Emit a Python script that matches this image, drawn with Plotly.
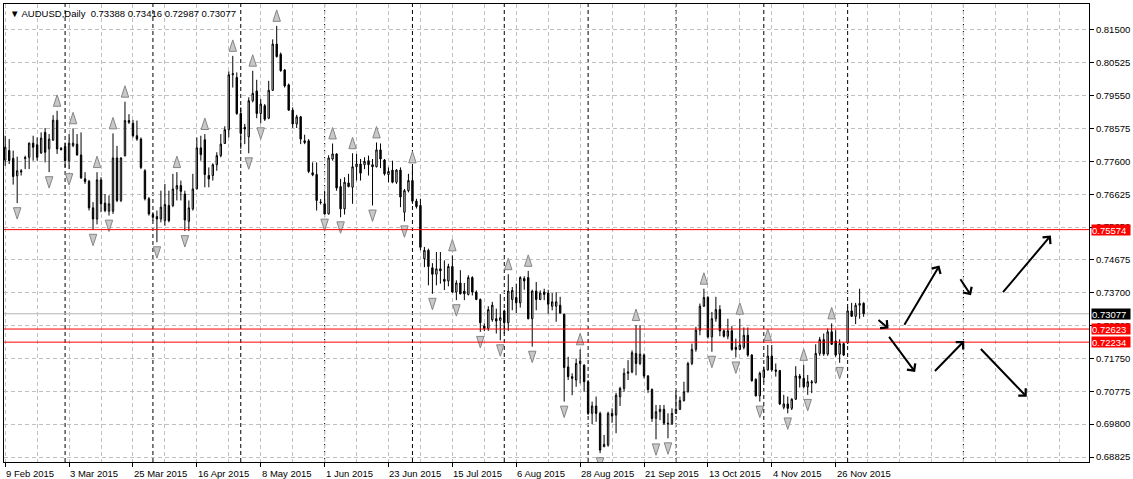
import plotly.graph_objects as go

# ---------------- data (AUDUSD daily) ----------------
open_ = [
    0.7764, 0.7792, 0.7769, 0.7717, 0.7732, 0.7768, 0.7772, 0.7814, 0.7809, 0.7785,
    0.7846, 0.7797, 0.7823, 0.7882, 0.7799, 0.7804, 0.7762, 0.7807, 0.7811, 0.7779,
    0.7708, 0.7701, 0.7622, 0.7589, 0.7705, 0.7636, 0.7612, 0.7612, 0.7770, 0.7644,
    0.7777, 0.7881, 0.7873, 0.7836, 0.7826, 0.7732, 0.7649, 0.7602, 0.7596, 0.7589,
    0.7584, 0.7629, 0.7629, 0.7678, 0.7688, 0.7663, 0.7582, 0.7619, 0.7678, 0.7800,
    0.7824, 0.7718, 0.7718, 0.7750, 0.7777, 0.7813, 0.7854, 0.8017, 0.8009, 0.7902,
    0.7861, 0.7833, 0.7940, 0.7969, 0.7902, 0.7925, 0.7888, 0.7971, 0.8108, 0.8078,
    0.8031, 0.7987, 0.7912, 0.7871, 0.7892, 0.7821, 0.7821, 0.7726, 0.7721, 0.7639,
    0.7634, 0.7604, 0.7767, 0.7782, 0.7685, 0.7619, 0.7696, 0.7683, 0.7744, 0.7752,
    0.7750, 0.7762, 0.7750, 0.7744, 0.7794, 0.7764, 0.7721, 0.7734, 0.7698, 0.7734,
    0.7609, 0.7673, 0.7703, 0.7642, 0.7629, 0.7471, 0.7496, 0.7444, 0.7425, 0.7441,
    0.7410, 0.7405, 0.7448, 0.7372, 0.7399, 0.7375, 0.7365, 0.7415, 0.7372, 0.7350,
    0.7271, 0.7264, 0.7290, 0.7293, 0.7288, 0.7316, 0.7281, 0.7350, 0.7356, 0.7340,
    0.7412, 0.7415, 0.7293, 0.7375, 0.7350, 0.7372, 0.7369, 0.7330, 0.7330, 0.7333,
    0.7306, 0.7150, 0.7121, 0.7111, 0.7160, 0.7155, 0.7106, 0.7012, 0.7034, 0.7012,
    0.6913, 0.6918, 0.7012, 0.7007, 0.7061, 0.7086, 0.7131, 0.7135, 0.7190, 0.7160,
    0.7185, 0.7123, 0.7083, 0.6997, 0.7017, 0.7024, 0.6983, 0.6981, 0.7012, 0.7024,
    0.7050, 0.7076, 0.7160, 0.7202, 0.7259, 0.7330, 0.7356, 0.7239, 0.7293, 0.7320,
    0.7257, 0.7241, 0.7257, 0.7208, 0.7202, 0.7208, 0.7244, 0.7185, 0.7113, 0.7064,
    0.7119, 0.7141, 0.7182, 0.7141, 0.7139, 0.7030, 0.7040, 0.7027, 0.7054, 0.7123,
    0.7116, 0.7091, 0.7106, 0.7103, 0.7190, 0.7231, 0.7188, 0.7254, 0.7227, 0.7188,
    0.7219, 0.7221, 0.7316, 0.7300, 0.7333, 0.73388,
]
high = [
    0.7836, 0.7826, 0.7792, 0.7774, 0.7737, 0.7777, 0.7816, 0.7836, 0.7831, 0.7846,
    0.7859, 0.7841, 0.7897, 0.7910, 0.7802, 0.7816, 0.7841, 0.7858, 0.7841, 0.7846,
    0.7728, 0.7705, 0.7639, 0.7728, 0.7713, 0.7663, 0.7659, 0.7843, 0.7806, 0.7772,
    0.7937, 0.7900, 0.7883, 0.7881, 0.7831, 0.7737, 0.7654, 0.7609, 0.7614, 0.7673,
    0.7693, 0.7673, 0.7723, 0.7728, 0.7703, 0.7673, 0.7644, 0.7723, 0.7831, 0.7836,
    0.7841, 0.7742, 0.7754, 0.7787, 0.7841, 0.7864, 0.8027, 0.8073, 0.8024, 0.7920,
    0.7871, 0.7950, 0.8029, 0.8002, 0.7945, 0.7930, 0.7999, 0.8122, 0.8162, 0.8083,
    0.8034, 0.7991, 0.7920, 0.7898, 0.7895, 0.7839, 0.7826, 0.7757, 0.7757, 0.7648,
    0.7673, 0.7778, 0.7813, 0.7784, 0.7708, 0.7713, 0.7723, 0.7784, 0.7782, 0.7767,
    0.7772, 0.7777, 0.7767, 0.7816, 0.7813, 0.7767, 0.7742, 0.7762, 0.7737, 0.7742,
    0.7678, 0.7723, 0.7742, 0.7649, 0.7649, 0.7506, 0.7501, 0.7458, 0.7491, 0.7491,
    0.7466, 0.7456, 0.7481, 0.7407, 0.7437, 0.7399, 0.7422, 0.7419, 0.7377, 0.7353,
    0.7279, 0.7330, 0.7343, 0.7323, 0.7366, 0.7320, 0.7425, 0.7387, 0.7397, 0.7419,
    0.7419, 0.7435, 0.7379, 0.7402, 0.7377, 0.7382, 0.7379, 0.7369, 0.7372, 0.7358,
    0.7308, 0.7180, 0.7131, 0.7175, 0.7202, 0.7158, 0.7111, 0.7047, 0.7062, 0.7017,
    0.6948, 0.7017, 0.7027, 0.7073, 0.7091, 0.7146, 0.7170, 0.7199, 0.7274, 0.7274,
    0.7190, 0.7126, 0.7086, 0.7037, 0.7037, 0.7037, 0.7012, 0.7027, 0.7081, 0.7062,
    0.7106, 0.7165, 0.7219, 0.7269, 0.7338, 0.7382, 0.7360, 0.7313, 0.7358, 0.7333,
    0.7261, 0.7293, 0.7271, 0.7234, 0.7293, 0.7267, 0.7267, 0.7188, 0.7116, 0.7136,
    0.7151, 0.7215, 0.7215, 0.7160, 0.7141, 0.7067, 0.7062, 0.7057, 0.7152, 0.7129,
    0.7156, 0.7126, 0.7111, 0.7217, 0.7239, 0.7249, 0.7264, 0.7279, 0.7259, 0.7232,
    0.7222, 0.7328, 0.7340, 0.7340, 0.7382, 0.73416,
]
low = [
    0.7747, 0.7752, 0.7691, 0.7636, 0.7718, 0.7737, 0.7737, 0.7762, 0.7762, 0.7782,
    0.7757, 0.7728, 0.7821, 0.7782, 0.7792, 0.7742, 0.7737, 0.7802, 0.7777, 0.7708,
    0.7693, 0.7614, 0.7557, 0.7573, 0.7609, 0.7609, 0.7599, 0.7604, 0.7639, 0.7639,
    0.7774, 0.7871, 0.7831, 0.7821, 0.7737, 0.7644, 0.7599, 0.7584, 0.7520, 0.7579,
    0.7569, 0.7579, 0.7624, 0.7644, 0.7644, 0.7553, 0.7553, 0.7614, 0.7678, 0.7762,
    0.7683, 0.7683, 0.7703, 0.7732, 0.7772, 0.7813, 0.7831, 0.7979, 0.7898, 0.7797,
    0.7811, 0.7784, 0.7935, 0.7888, 0.7873, 0.7880, 0.7885, 0.7969, 0.8068, 0.8026,
    0.7979, 0.7910, 0.7859, 0.7859, 0.7811, 0.7811, 0.7725, 0.7716, 0.7614, 0.7632,
    0.7602, 0.7602, 0.7762, 0.7673, 0.7594, 0.7602, 0.7683, 0.7634, 0.7703, 0.7703,
    0.7737, 0.7718, 0.7629, 0.7742, 0.7740, 0.7718, 0.7698, 0.7695, 0.7693, 0.7624,
    0.7582, 0.7668, 0.7634, 0.7620, 0.7496, 0.7446, 0.7392, 0.7367, 0.7392, 0.7397,
    0.7378, 0.7389, 0.7370, 0.7348, 0.7365, 0.7348, 0.7362, 0.7362, 0.7348, 0.7254,
    0.7256, 0.7257, 0.7284, 0.7249, 0.7229, 0.7249, 0.7257, 0.7318, 0.7310, 0.7326,
    0.7379, 0.7291, 0.7210, 0.7318, 0.7348, 0.7348, 0.7308, 0.7318, 0.7284, 0.7308,
    0.7047, 0.7111, 0.7066, 0.7091, 0.7101, 0.7076, 0.7007, 0.6980, 0.6987, 0.6894,
    0.6912, 0.6913, 0.6984, 0.6953, 0.7034, 0.7076, 0.7111, 0.7131, 0.7125, 0.7155,
    0.7116, 0.7073, 0.6987, 0.6935, 0.6992, 0.6978, 0.6938, 0.6978, 0.7010, 0.7022,
    0.7047, 0.7074, 0.7155, 0.7195, 0.7244, 0.7328, 0.7234, 0.7195, 0.7284, 0.7241,
    0.7237, 0.7232, 0.7198, 0.7178, 0.7200, 0.7202, 0.7180, 0.7106, 0.7062, 0.7047,
    0.7106, 0.7139, 0.7136, 0.7121, 0.7037, 0.7024, 0.7012, 0.7022, 0.7052, 0.7089,
    0.7086, 0.7067, 0.7072, 0.7101, 0.7183, 0.7183, 0.7183, 0.7215, 0.7180, 0.7162,
    0.7182, 0.7218, 0.7298, 0.7277, 0.7293, 0.72987,
]
close = [
    0.7802, 0.7762, 0.7715, 0.7732, 0.7729, 0.7771, 0.7814, 0.7802, 0.7772, 0.7829,
    0.7787, 0.7826, 0.7882, 0.7797, 0.7795, 0.7762, 0.7814, 0.7814, 0.7779, 0.7711,
    0.7700, 0.7622, 0.7589, 0.7705, 0.7634, 0.7614, 0.7634, 0.7770, 0.7644, 0.7770,
    0.7881, 0.7876, 0.7836, 0.7826, 0.7742, 0.7649, 0.7604, 0.7594, 0.7589, 0.7624,
    0.7632, 0.7584, 0.7678, 0.7688, 0.7671, 0.7586, 0.7622, 0.7678, 0.7800, 0.7780,
    0.7721, 0.7708, 0.7750, 0.7777, 0.7811, 0.7854, 0.8017, 0.8020, 0.7902, 0.7843,
    0.7856, 0.7940, 0.7962, 0.7902, 0.7930, 0.7885, 0.7971, 0.8108, 0.8071, 0.8029,
    0.7984, 0.7912, 0.7871, 0.7892, 0.7826, 0.7816, 0.7730, 0.7720, 0.7644, 0.7638,
    0.7604, 0.7770, 0.7782, 0.7681, 0.7619, 0.7698, 0.7685, 0.7744, 0.7752, 0.7725,
    0.7760, 0.7750, 0.7744, 0.7794, 0.7767, 0.7723, 0.7730, 0.7698, 0.7734, 0.7654,
    0.7673, 0.7703, 0.7642, 0.7626, 0.7505, 0.7496, 0.7448, 0.7425, 0.7441, 0.7435,
    0.7404, 0.7448, 0.7372, 0.7399, 0.7367, 0.7367, 0.7415, 0.7372, 0.7350, 0.7281,
    0.7264, 0.7320, 0.7333, 0.7286, 0.7296, 0.7281, 0.7375, 0.7377, 0.7340, 0.7415,
    0.7405, 0.7293, 0.7375, 0.7350, 0.7369, 0.7365, 0.7336, 0.7343, 0.7343, 0.7310,
    0.7148, 0.7121, 0.7116, 0.7160, 0.7167, 0.7106, 0.7012, 0.7034, 0.7012, 0.6903,
    0.6920, 0.7012, 0.7004, 0.7066, 0.7086, 0.7131, 0.7135, 0.7192, 0.7160, 0.7188,
    0.7123, 0.7083, 0.6997, 0.7017, 0.7024, 0.6983, 0.6981, 0.7012, 0.7024, 0.7050,
    0.7076, 0.7160, 0.7202, 0.7259, 0.7330, 0.7356, 0.7239, 0.7293, 0.7320, 0.7257,
    0.7241, 0.7257, 0.7202, 0.7202, 0.7215, 0.7244, 0.7185, 0.7109, 0.7064, 0.7131,
    0.7141, 0.7182, 0.7141, 0.7137, 0.7040, 0.7040, 0.7027, 0.7054, 0.7123, 0.7116,
    0.7091, 0.7106, 0.7103, 0.7190, 0.7231, 0.7188, 0.7254, 0.7217, 0.7185, 0.7219,
    0.7185, 0.7316, 0.7300, 0.7333, 0.7338, 0.73077,
]
bar_idx = list(range(len(close)))

date_label_idx = [0, 16, 32, 48, 64, 80, 96, 112, 128, 144, 160, 176, 192, 208]
date_labels = ["9 Feb 2015", "3 Mar 2015", "25 Mar 2015", "16 Apr 2015", "8 May 2015",
               "1 Jun 2015", "23 Jun 2015", "15 Jul 2015", "6 Aug 2015", "28 Aug 2015",
               "21 Sep 2015", "13 Oct 2015", "4 Nov 2015", "26 Nov 2015"]
month_start_idx = [15, 37, 59, 80, 102, 125, 146, 168, 190, 211, 240]

price_ticks = [0.68825, 0.69800, 0.70775, 0.71750, 0.72725, 0.73700, 0.74675,
               0.75650, 0.76625, 0.77600, 0.78575, 0.79550, 0.80525, 0.81500]
level_lines = [0.75574, 0.72623, 0.72234]
current_price = close[-1]

# hand-drawn scenario arrows: (tail bar, tail price, head bar, head price)
arrow_drawings = [
    (218.35, 0.72933, 221.25, 0.72637),
    (225.0, 0.72705, 234.0, 0.74511),
    (221.1, 0.72438, 227.9, 0.71351),
    (232.5, 0.71333, 240.2, 0.72269),
    (239.0, 0.74147, 241.9, 0.73623),
    (249.6, 0.73673, 261.9, 0.75400),
    (244.0, 0.72074, 255.85, 0.70611),
]

# ---------------- layout geometry ----------------
W, H = 1133, 479
M_L, M_R, M_T, M_B = 3, 43, 3, 17
X_RANGE = [-0.3, 271.45]
Y_RANGE = [0.68677, 0.82270]
px_per_price = (H - M_T - M_B) / (Y_RANGE[1] - Y_RANGE[0])
frac_off = 16 / px_per_price

FONT = "Liberation Sans, Arial, sans-serif"
FS = 9.5

# Bill Williams fractals computed from the series
up_x, up_y, dn_x, dn_y = [], [], [], []
n = len(close)
for i in range(2, n - 2):
    if high[i] > high[i - 1] and high[i] > high[i - 2] and high[i] >= high[i + 1] and high[i] >= high[i + 2]:
        up_x.append(i)
        up_y.append(high[i] + frac_off)
    if low[i] < low[i - 1] and low[i] < low[i - 2] and low[i] <= low[i + 1] and low[i] <= low[i + 2]:
        dn_x.append(i)
        dn_y.append(low[i] - frac_off)

fig = go.Figure()
fig.add_trace(go.Candlestick(
    x=bar_idx, open=open_, high=high, low=low, close=close,
    increasing=dict(line=dict(color="black", width=1), fillcolor="white"),
    decreasing=dict(line=dict(color="black", width=1), fillcolor="black"),
    whiskerwidth=0, hoverinfo="skip", showlegend=False,
))
fig.add_trace(go.Scatter(
    x=up_x, y=up_y, mode="markers", showlegend=False, hoverinfo="skip",
    marker=dict(symbol="arrow", size=12, color="#c8c8c8", angle=0,
                line=dict(color="#858585", width=1)),
))
fig.add_trace(go.Scatter(
    x=dn_x, y=dn_y, mode="markers", showlegend=False, hoverinfo="skip",
    marker=dict(symbol="arrow", size=12, color="#c8c8c8", angle=180,
                line=dict(color="#858585", width=1)),
))

shapes = []
for m in month_start_idx:
    shapes.append(dict(type="line", xref="x", yref="paper", x0=m, x1=m, y0=0, y1=1,
                       line=dict(color="black", width=1, dash="4px,3px"), layer="below"))
shapes.append(dict(type="line", xref="paper", yref="y", x0=0, x1=1,
                   y0=current_price, y1=current_price,
                   line=dict(color="#b4b4b4", width=1), layer="below"))
for lv in level_lines:
    shapes.append(dict(type="line", xref="paper", yref="y", x0=0, x1=1, y0=lv, y1=lv,
                       line=dict(color="#ff0000", width=1), layer="above"))

annotations = []
for xi, lab in zip(date_label_idx, date_labels):
    annotations.append(dict(x=xi, y=0, xref="x", yref="paper", text=lab, showarrow=False,
                            xanchor="left", yanchor="top", yshift=-4, xshift=-1,
                            font=dict(family=FONT, size=FS, color="black")))
for lv in level_lines:
    annotations.append(dict(x=1, y=lv, xref="paper", yref="y", text=f"{lv:.5f}",
                            showarrow=False, xanchor="left", yanchor="middle", xshift=2,
                            bgcolor="#ff0000", font=dict(family=FONT, size=FS, color="white"),
                            width=38, height=10, borderpad=0, align="left"))
annotations.append(dict(x=1, y=current_price, xref="paper", yref="y",
                        text=f"{current_price:.5f}", showarrow=False, xanchor="left",
                        yanchor="middle", xshift=2, bgcolor="black",
                        font=dict(family=FONT, size=FS, color="white"),
                        width=38, height=10, borderpad=0, align="left"))
for tx, ty, hx, hy in arrow_drawings:
    annotations.append(dict(x=hx, y=hy, ax=tx, ay=ty, xref="x", yref="y", axref="x", ayref="y",
                            text="", showarrow=True, arrowhead=4, arrowsize=1, arrowwidth=2,
                            arrowcolor="black", standoff=0, startstandoff=0))
title_txt = (f"\u25BC AUDUSD,Daily  {open_[-1]:.5f} {high[-1]:.5f} "
             f"{low[-1]:.5f} {close[-1]:.5f}")
annotations.append(dict(x=0, y=1, xref="paper", yref="paper", text=title_txt, showarrow=False,
                        xanchor="left", yanchor="top", xshift=4, yshift=-2,
                        font=dict(family=FONT, size=FS, color="black")))

fig.update_layout(
    width=W, height=H,
    margin=dict(l=M_L, r=M_R, t=M_T, b=M_B, pad=0),
    paper_bgcolor="white", plot_bgcolor="white",
    boxgap=0.5,
    showlegend=False,
    shapes=shapes, annotations=annotations,
    font=dict(family=FONT, size=FS, color="black"),
    xaxis=dict(
        range=X_RANGE, rangeslider=dict(visible=False),
        tickmode="array", tickvals=date_label_idx, ticktext=[""] * len(date_label_idx),
        showticklabels=False, ticks="outside", ticklen=4, tickcolor="black",
        showgrid=True, gridcolor="#c0c0c0", griddash="4px,3px", gridwidth=1,
        minor=dict(tickmode="linear", tick0=0, dtick=8, showgrid=True,
                   gridcolor="#c0c0c0", griddash="4px,3px", gridwidth=1, ticks=""),
        showline=True, mirror=True, linecolor="black", linewidth=1,
        zeroline=False, fixedrange=True,
    ),
    yaxis=dict(
        range=Y_RANGE, side="right",
        tickmode="array", tickvals=price_ticks, tickformat=".5f",
        ticks="outside", ticklen=4, tickcolor="black",
        tickfont=dict(family=FONT, size=FS, color="black"),
        showgrid=True, gridcolor="#c0c0c0", griddash="4px,3px", gridwidth=1,
        showline=True, mirror=True, linecolor="black", linewidth=1,
        zeroline=False, fixedrange=True,
    ),
)

fig.write_html("out.html",
               config={"displayModeBar": False, "staticPlot": True},
               post_script="document.body.style.margin='0px';document.body.style.overflow='hidden';")
